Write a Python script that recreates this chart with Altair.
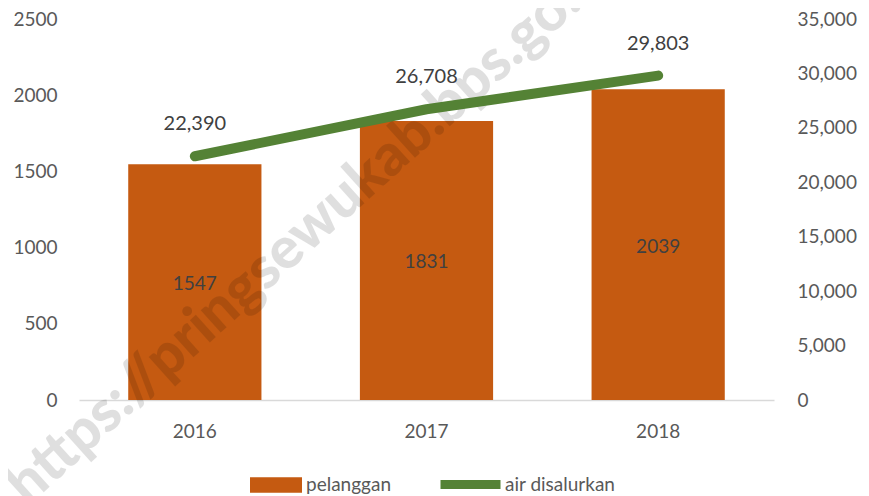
import altair as alt
import pandas as pd

years = ["2016", "2017", "2018"]
pelanggan = [1547, 1831, 2039]
air_disalurkan = [22390, 26708, 29803]
watermark = ["https://pringsewukab.bps.go.id"]

ORANGE = "#C55A11"
GREEN = "#548235"
FONT = "Lato"

df = pd.DataFrame({"tahun": years, "pelanggan": pelanggan, "air": air_disalurkan})
wm = pd.DataFrame({"t": watermark})

base = alt.Chart(df)
xenc = alt.X(
    "tahun:N",
    title=None,
    scale=alt.Scale(paddingInner=0.425, paddingOuter=0.2125),
    axis=alt.Axis(labelAngle=0, labelFontSize=19, labelColor="#595959", labelPadding=22,
                  ticks=False, domainColor="#D9D9D9", domainWidth=1.5, labelFont=FONT),
)
left_scale = alt.Scale(domain=[0, 2500])
right_scale = alt.Scale(domain=[0, 35000])

bars = base.transform_calculate(s1="'pelanggan'").mark_bar(color=ORANGE).encode(
    x=xenc,
    y=alt.Y("pelanggan:Q", scale=left_scale, title=None,
            axis=alt.Axis(orient="left", values=[0, 500, 1000, 1500, 2000, 2500],
                          labelExpr="format(datum.value, 'd')",
                          grid=False, domain=False, ticks=False, labelFontSize=19,
                          labelColor="#595959", labelPadding=22, labelFont=FONT)),
    color=alt.Color("s1:N", scale=alt.Scale(domain=["pelanggan"], range=[ORANGE]),
                    legend=alt.Legend(orient="none", legendX=171, legendY=440, title=None,
                                      direction="horizontal",
                                      symbolType="M-1,-0.3H1V0.3H-1Z", symbolSize=2704,
                                      symbolStrokeWidth=0, symbolOpacity=1,
                                      labelFontSize=19, labelColor="#595959", labelFont=FONT,
                                      labelOffset=4)),
)

wmark = alt.Chart(wm).mark_text(
    angle=318, align="left", baseline="middle", fontSize=58, fontWeight=900,
    font=FONT, color="#000000", opacity=0.12,
).encode(x=alt.value(-63), y=alt.value(475), text="t:N")

bar_labels = base.transform_calculate(half="datum.pelanggan / 2").mark_text(
    fontSize=19, color="#404040", font=FONT, dy=2
).encode(
    x=alt.X("tahun:N"),
    y=alt.Y("half:Q", scale=left_scale, axis=None),
    text=alt.Text("pelanggan:Q", format="d"),
)

line = base.transform_calculate(s2="'air disalurkan'").mark_line(
    strokeWidth=10, strokeCap="round", strokeJoin="round"
).encode(
    x=alt.X("tahun:N"),
    y=alt.Y("air:Q", scale=right_scale, title=None,
            axis=alt.Axis(orient="right", values=list(range(0, 35001, 5000)),
                          labelExpr="format(datum.value, ',')",
                          grid=False, domain=False, ticks=False, labelFontSize=19,
                          labelColor="#595959", labelPadding=23, labelFont=FONT)),
    color=alt.Color("s2:N", scale=alt.Scale(domain=["air disalurkan"], range=[GREEN]),
                    legend=alt.Legend(orient="none", legendX=357, legendY=431, title=None,
                                      direction="horizontal", symbolType="stroke",
                                      symbolSize=3600, symbolStrokeWidth=9,
                                      labelFontSize=19, labelColor="#595959", labelFont=FONT,
                                      labelOffset=0)),
)

line_labels = base.mark_text(fontSize=20, color="#404040", dy=-32, font=FONT).encode(
    x=alt.X("tahun:N"),
    y=alt.Y("air:Q", scale=right_scale, axis=None),
    text=alt.Text("air:Q", format=","),
)

chart = alt.layer(bars, wmark, bar_labels, line, line_labels).resolve_scale(
    y="independent", color="independent"
).properties(
    width=695, height=381,
    autosize=alt.AutoSizeParams(type="none"),
    padding={"left": 71, "top": 11, "right": 87, "bottom": 96},
).configure_view(stroke=None)

chart.save("out.html", embed_options={"renderer": "svg", "actions": False})
